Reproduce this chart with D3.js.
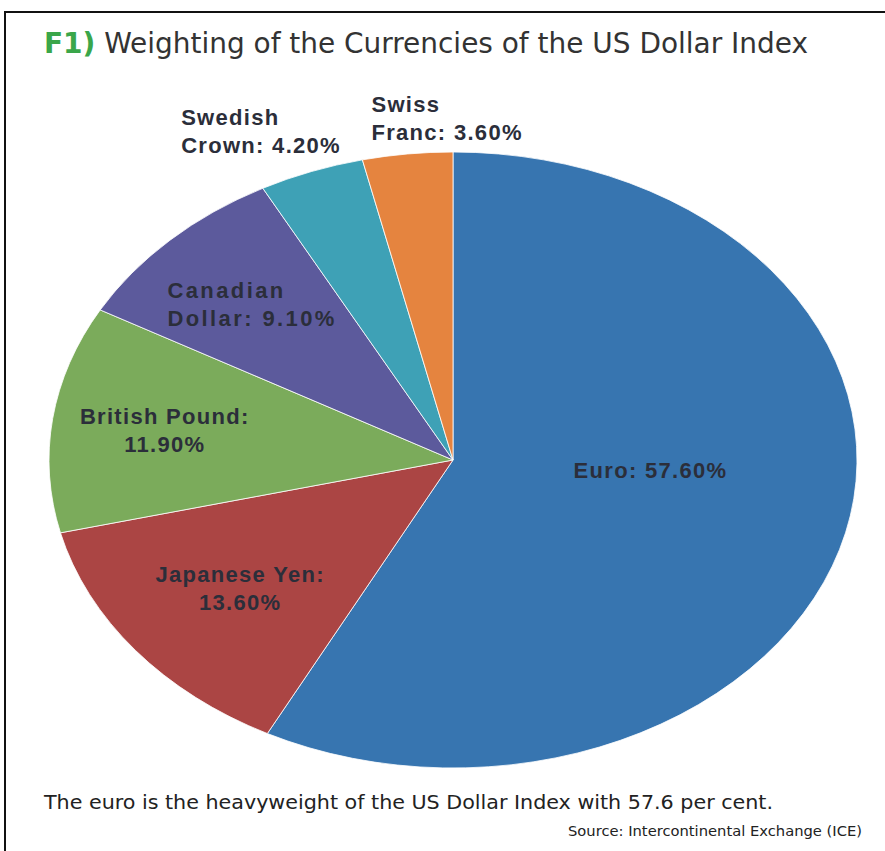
<!DOCTYPE html>
<html>
<head>
<meta charset="utf-8">
<script src="https://cdn.jsdelivr.net/npm/d3@7"></script>
<style>
  body { margin: 0; background: #fff; }
  svg { display: block; }
</style>
</head>
<body>
<svg id="chart" width="885" height="851"></svg>
<script>
// data
const currencies = ["Euro", "Japanese Yen", "British Pound", "Canadian Dollar", "Swedish Crown", "Swiss Franc"]
const weights = [57.6, 13.6, 11.9, 9.1, 4.2, 3.6]
const labelLines = [
  ["Euro: 57.60%"],
  ["Japanese Yen:", "13.60%"],
  ["British Pound:", "11.90%"],
  ["Canadian", "Dollar: 9.10%"],
  ["Swedish", "Crown: 4.20%"],
  ["Swiss", "Franc: 3.60%"]
]
const colors = ["#3775b0", "#ab4544", "#7bab5b", "#5c5a9c", "#3ea1b6", "#e5843f"]

const svg = d3.select("#chart")
const W = 885, H = 851

// frame (open on right/bottom like the cropped original)
svg.append("path")
  .attr("d", `M5,${H} L5,12 L${W},12`)
  .attr("fill", "none")
  .attr("stroke", "#111")
  .attr("stroke-width", 2)

const condensed = "'Liberation Sans Narrow', 'DejaVu Sans Condensed', 'Arial Narrow', sans-serif"

// title
const title = svg.append("text")
  .attr("x", 44)
  .attr("y", 53)
  .attr("font-family", condensed)
  .attr("font-size", 28)
  .attr("textLength", 764)
  .attr("lengthAdjust", "spacingAndGlyphs")
title.append("tspan").attr("fill", "#3aa64a").attr("font-weight", "bold").text("F1)")
title.append("tspan").attr("fill", "#333").text(" Weighting of the Currencies of the US Dollar Index")

// pie as an ellipse: circle of radius rx squashed vertically
const cx = 453, cy = 460, rx = 404, ry = 308
const sy = ry / rx

const pie = d3.pie().sort(null).value(d => d)
const arcs = pie(weights)
const arc = d3.arc().innerRadius(0).outerRadius(rx)

const g = svg.append("g")
  .attr("transform", `translate(${cx},${cy}) scale(1,${sy})`)

g.selectAll("path")
  .data(arcs)
  .enter()
  .append("path")
  .attr("d", arc)
  .attr("fill", (d, i) => colors[i])
  .attr("stroke", "#fff")
  .attr("stroke-width", 0.8)
  .attr("vector-effect", "non-scaling-stroke")

// label placement: radius fraction and angle shift per slice (Excel best-fit look)
const labelR = [0.49, 0.67, 0.72, 0.71, 1.17, 1.11]
const labelShift = [-0.17, 0, 0, 0, -0.06, 0.1]
const leftAligned = [false, false, false, true, true, true]

const labels = svg.append("g")
  .attr("font-family", "'Liberation Sans', Arial, sans-serif")
  .attr("font-weight", "bold")
  .attr("font-size", 22)
  .attr("fill", "#2b2e3a")

arcs.forEach((d, i) => {
  const a = (d.startAngle + d.endAngle) / 2 + labelShift[i]
  const px = cx + Math.sin(a) * rx * labelR[i]
  const py = cy - Math.cos(a) * ry * labelR[i]
  const lines = labelLines[i]
  const lh = 28
  const t = labels.append("text")
    .attr("text-anchor", leftAligned[i] ? "start" : "middle")
    .attr("letter-spacing", i === 3 ? 2.4 : 1.3)
  lines.forEach((ln, j) => {
    t.append("tspan")
      .attr("x", px)
      .attr("y", py + (j - (lines.length - 1) / 2) * lh + 8)
      .text(ln)
  })
  if (leftAligned[i]) {
    const bw = t.node().getBBox().width
    t.selectAll("tspan").attr("x", px - bw / 2)
  }
})

// caption and source
svg.append("text")
  .attr("x", 44)
  .attr("y", 809)
  .attr("font-family", condensed)
  .attr("font-size", 20)
  .attr("fill", "#222")
  .attr("textLength", 729)
  .attr("lengthAdjust", "spacingAndGlyphs")
  .text("The euro is the heavyweight of the US Dollar Index with 57.6 per cent.")

svg.append("text")
  .attr("x", 862)
  .attr("y", 836)
  .attr("text-anchor", "end")
  .attr("font-family", condensed)
  .attr("font-size", 14)
  .attr("fill", "#222")
  .attr("textLength", 294)
  .attr("lengthAdjust", "spacingAndGlyphs")
  .text("Source: Intercontinental Exchange (ICE)")
</script>
</body>
</html>
